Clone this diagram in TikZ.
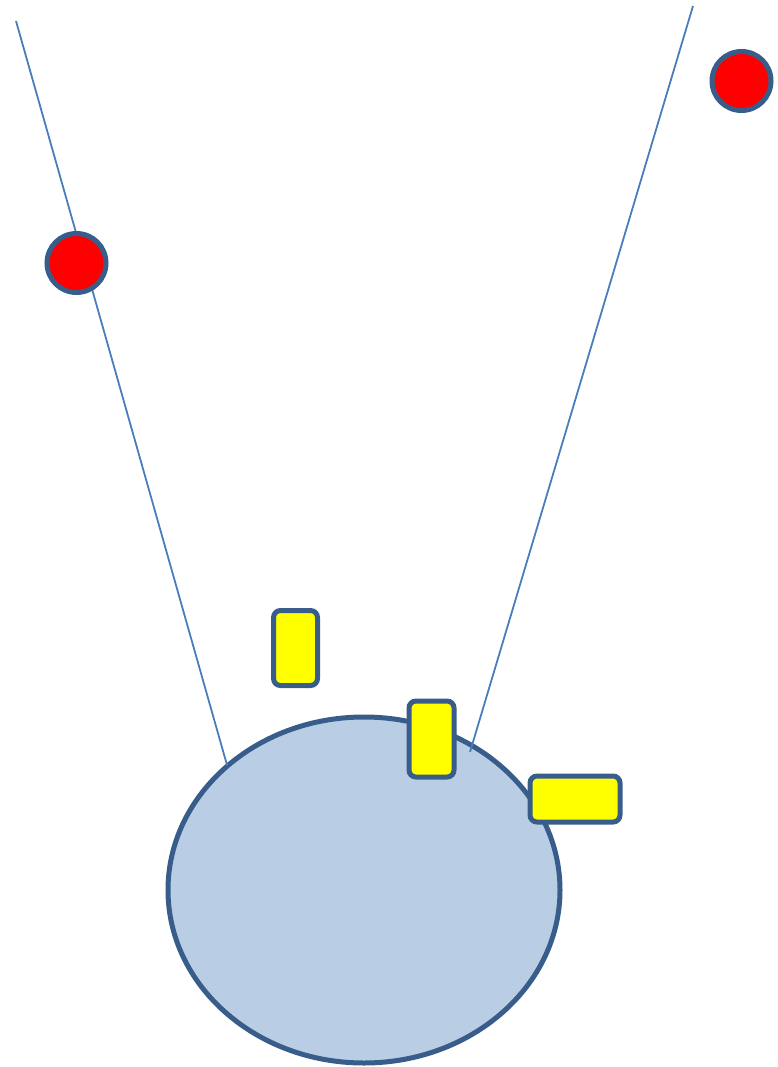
\documentclass[tikz,border=0pt]{standalone}
\usetikzlibrary{shapes.geometric}
\definecolor{bord}{HTML}{385D8A}
\definecolor{bluefill}{HTML}{B9CDE5}
\definecolor{linec}{HTML}{4A7EBB}
\definecolor{yel}{RGB}{255,255,0}
\definecolor{redc}{RGB}{255,0,0}
\begin{document}
\begin{tikzpicture}[x=1pt,y=-1pt,
  ball/.style={circle,draw=bord,fill=redc,line width=5pt,minimum size=59pt,inner sep=0pt},
  block/.style={rectangle,rounded corners=7pt,draw=bord,fill=yel,line width=5pt,inner sep=0pt},
  ray/.style={draw=linec,line width=1.8pt}]
\useasboundingbox (0,0) rectangle (777,1067);
\node[ellipse,draw=bord,fill=bluefill,line width=5pt,minimum width=392pt,minimum height=346pt,inner sep=0pt] (body) at (364,890) {};
\coordinate (ltop) at (16,21);
\coordinate (lbot) at (227,765);
\coordinate (rtop) at (693,6);
\coordinate (rbot) at (470,752);
\draw[ray] (ltop) -- (lbot);
\draw[ray] (rtop) -- (rbot);
\node[ball] (b1) at (76.5,263) {};
\node[ball] (b2) at (741.5,81) {};
\node[block,minimum width=44pt,minimum height=75pt] (y1) at (295.5,648) {};
\node[block,minimum width=45pt,minimum height=76pt] (y2) at (431.5,739) {};
\node[block,minimum width=90pt,minimum height=46pt] (y3) at (575,799) {};
\end{tikzpicture}
\end{document}
